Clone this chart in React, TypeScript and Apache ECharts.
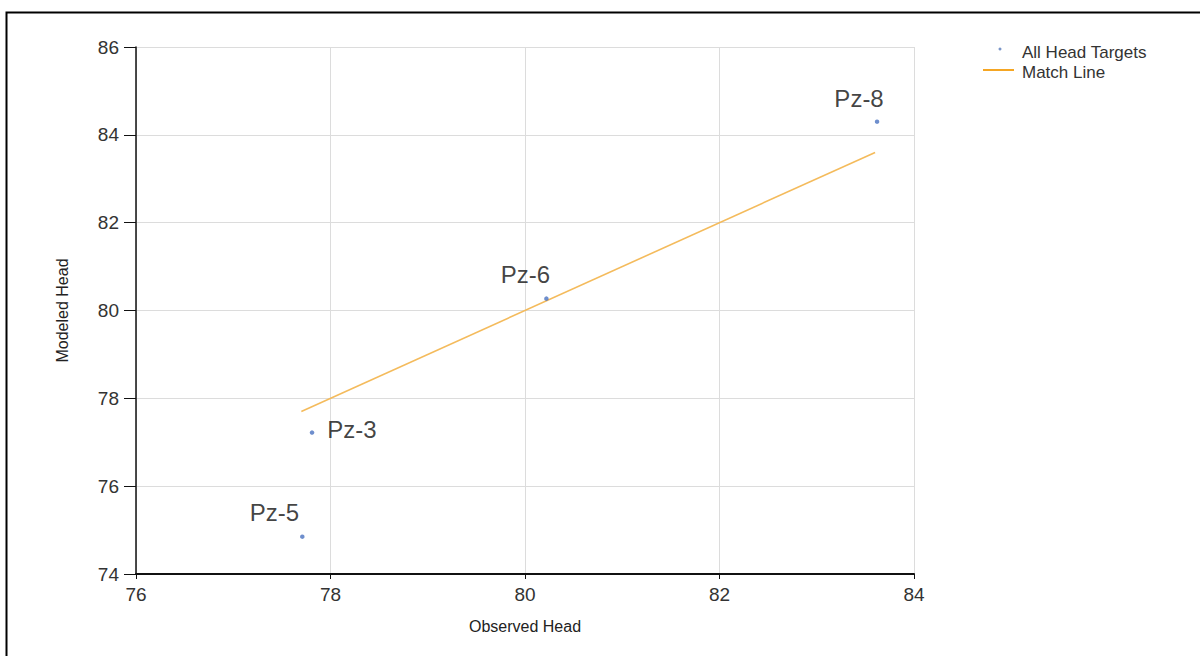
import React, { useEffect, useRef } from "react";
import * as echarts from "echarts";

const targetNames = ["Pz-5", "Pz-3", "Pz-6", "Pz-8"];
const observedHead = [77.71, 77.81, 80.22, 83.62];
const modeledHead = [74.85, 77.22, 80.27, 84.3];
const matchLineX = [77.7, 83.6];
const xTicks = { min: 76, max: 84, interval: 2 };
const yTicks = { min: 74, max: 86, interval: 2 };

const labelLayouts: Record<string, any> = {
  "Pz-5": { position: "top", offset: [-28, -5] },
  "Pz-3": { position: "right", distance: 13, offset: [0, -3] },
  "Pz-6": { position: "top", offset: [-21, -5] },
  "Pz-8": { position: "top", offset: [-18, -4] },
};

export default function App() {
  const ref = useRef<HTMLDivElement>(null);
  useEffect(() => {
    if (!ref.current) return;
    const chart = echarts.init(ref.current, null, { renderer: "svg" });
    const scatterData = targetNames.map((n, i) => ({
      name: n,
      value: [observedHead[i], modeledHead[i]],
      label: labelLayouts[n],
    }));
    chart.setOption({
      animation: false,
      backgroundColor: "#ffffff",
      grid: { left: 136, right: 286, top: 47, bottom: 82 },
      xAxis: {
        type: "value",
        min: xTicks.min,
        max: xTicks.max,
        interval: xTicks.interval,
        name: "Observed Head",
        nameLocation: "middle",
        nameGap: 44,
        nameTextStyle: { fontFamily: "Liberation Sans", fontSize: 16, color: "#222" },
        axisLine: { show: true, lineStyle: { color: "#111", width: 2 } },
        axisTick: { show: true, length: 5, lineStyle: { color: "#111" } },
        axisLabel: { fontFamily: "Liberation Sans", fontSize: 19, color: "#333", margin: 11 },
        splitLine: { show: true, lineStyle: { color: "#dcdcdc", width: 1 } },
      },
      yAxis: {
        type: "value",
        min: yTicks.min,
        max: yTicks.max,
        interval: yTicks.interval,
        name: "Modeled Head",
        nameLocation: "middle",
        nameGap: 66,
        nameTextStyle: { fontFamily: "Liberation Sans", fontSize: 16, color: "#222" },
        axisLine: { show: true, lineStyle: { color: "#111", width: 1.5 } },
        axisTick: { show: true, length: 12, lineStyle: { color: "#111" } },
        axisLabel: { fontFamily: "Liberation Sans", fontSize: 19, color: "#333", margin: 17 },
        splitLine: { show: true, lineStyle: { color: "#dcdcdc", width: 1 } },
      },
      series: [
        {
          name: "Match Line",
          type: "line",
          data: matchLineX.map((v) => [v, v]),
          symbol: "none",
          lineStyle: { color: "#f4bb5c", width: 1.6 },
          z: 2,
        },
        {
          name: "All Head Targets",
          type: "scatter",
          data: scatterData,
          symbolSize: 4.5,
          itemStyle: { color: "#4a72c0" },
          label: {
            show: true,
            formatter: (p: any) => p.name,
            fontFamily: "Liberation Sans",
            fontSize: 24,
            color: "#111",
          },
          z: 3,
        },
      ],
      graphic: [
        {
          type: "rect",
          shape: { x: 6.5, y: 12.5, width: 1300, height: 1000 },
          style: { fill: "none", stroke: "#000", lineWidth: 2 },
          silent: true,
        },
        {
          type: "circle",
          shape: { cx: 1000, cy: 49, r: 1.5 },
          style: { fill: "#7a95c8" },
        },
        {
          type: "text",
          x: 1022,
          y: 52,
          style: {
            text: "All Head Targets",
            fontFamily: "Liberation Sans",
            fontSize: 17,
            fill: "#333",
            verticalAlign: "middle",
          },
        },
        {
          type: "line",
          shape: { x1: 983, y1: 70, x2: 1014, y2: 70 },
          style: { stroke: "#f5a623", lineWidth: 2 },
        },
        {
          type: "text",
          x: 1022,
          y: 72,
          style: {
            text: "Match Line",
            fontFamily: "Liberation Sans",
            fontSize: 17,
            fill: "#333",
            verticalAlign: "middle",
          },
        },
      ],
    });
    return () => chart.dispose();
  }, []);
  return (
    <div
      ref={ref}
      style={{ position: "fixed", left: 0, top: 0, width: 1200, height: 656 }}
    />
  );
}
